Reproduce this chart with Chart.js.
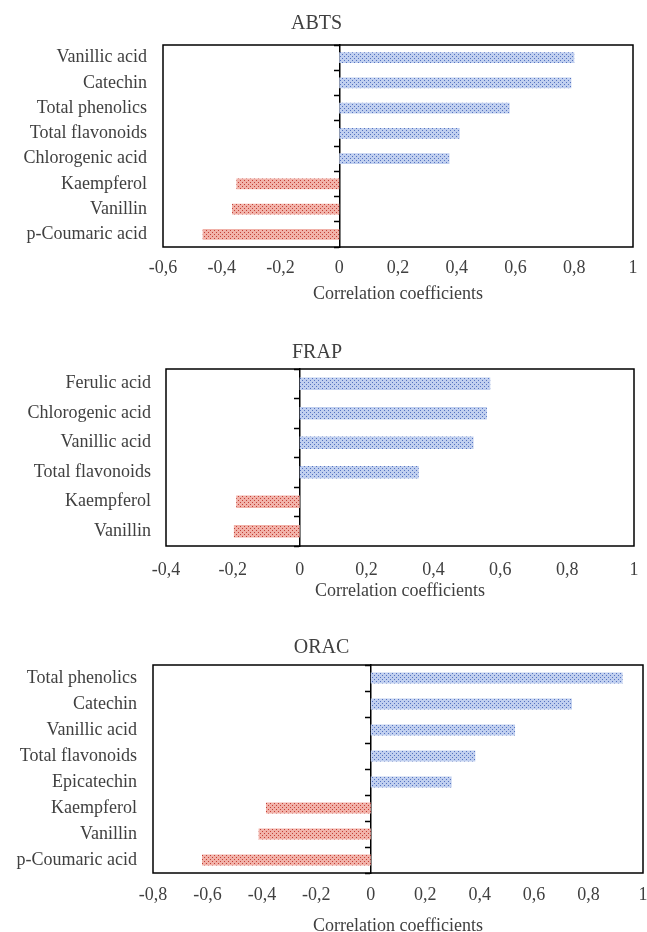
<!DOCTYPE html>
<html>
<head>
<meta charset="utf-8">
<script src="https://cdn.jsdelivr.net/npm/chart.js@4.4.1/dist/chart.umd.min.js"></script>
<style>
  html, body { margin: 0; padding: 0; background: #fff; overflow: hidden; }
  body { width: 647px; height: 932px; position: relative; }
  canvas { position: absolute; left: 0; }
</style>
</head>
<body>
<canvas id="abts" width="647" height="310" style="top:0px"></canvas>
<canvas id="frap" width="647" height="280" style="top:330px"></canvas>
<canvas id="orac" width="647" height="320" style="top:625px"></canvas>
<script>
// ABTS
var abtsLabels = ['Vanillic acid', 'Catechin', 'Total phenolics', 'Total flavonoids', 'Chlorogenic acid', 'Kaempferol', 'Vanillin', 'p-Coumaric acid'];
var abtsValues = [0.80, 0.79, 0.58, 0.41, 0.375, -0.35, -0.365, -0.465];
var abtsTicks = ['-0,6', '-0,4', '-0,2', '0', '0,2', '0,4', '0,6', '0,8', '1'];

// FRAP
var frapLabels = ['Ferulic acid', 'Chlorogenic acid', 'Vanillic acid', 'Total flavonoids', 'Kaempferol', 'Vanillin'];
var frapValues = [0.57, 0.56, 0.52, 0.356, -0.19, -0.197];
var frapTicks = ['-0,4', '-0,2', '0', '0,2', '0,4', '0,6', '0,8', '1'];

// ORAC
var oracLabels = ['Total phenolics', 'Catechin', 'Vanillic acid', 'Total flavonoids', 'Epicatechin', 'Kaempferol', 'Vanillin', 'p-Coumaric acid'];
var oracValues = [0.925, 0.739, 0.53, 0.384, 0.297, -0.385, -0.412, -0.62];
var oracTicks = ['-0,8', '-0,6', '-0,4', '-0,2', '0', '0,2', '0,4', '0,6', '0,8', '1'];

var serif = '"Liberation Serif", "Times New Roman", serif';
var textColor = '#404040';

function makePattern(bg, dot) {
  var c = document.createElement('canvas');
  c.width = 4; c.height = 4;
  var g = c.getContext('2d');
  g.fillStyle = bg;
  g.fillRect(0, 0, 4, 4);
  g.fillStyle = dot;
  g.fillRect(0, 0, 1, 1);
  g.fillRect(2, 2, 1, 1);
  return g.createPattern(c, 'repeat');
}
var bluePattern = makePattern('#c0cfef', '#5472c0');
var redPattern = makePattern('#f1b2a9', '#c43f35');

// frame around the plot area
var framePlugin = {
  id: 'frame',
  afterDraw: function(chart) {
    var a = chart.chartArea, c = chart.ctx;
    c.save();
    c.strokeStyle = '#000';
    c.lineWidth = 1.5;
    c.strokeRect(a.left, a.top, a.right - a.left, a.bottom - a.top);
    c.restore();
  }
};

function drawChart(id, title, labels, values, ticks, min, o) {
  var ctx = document.getElementById(id);
  return new Chart(ctx, {
    type: 'bar',
    data: {
      labels: labels,
      datasets: [{
        data: values,
        backgroundColor: function(c) { return c.raw >= 0 ? bluePattern : redPattern; },
        barPercentage: o.bar,
        categoryPercentage: 1,
        yAxisID: 'y'
      }]
    },
    plugins: [framePlugin],
    options: {
      responsive: false,
      animation: false,
      indexAxis: 'y',
      layout: { padding: { left: 0, right: o.right, top: 0, bottom: 0 } },
      plugins: {
        legend: { display: false },
        tooltip: { enabled: false },
        title: {
          display: true,
          text: title,
          color: textColor,
          font: { family: serif, size: 20, weight: 'normal' },
          padding: { top: o.titleTop, bottom: o.titleBottom }
        }
      },
      scales: {
        x: {
          type: 'linear',
          min: min,
          max: 1,
          grid: { display: false, drawTicks: false },
          border: { display: false },
          ticks: {
            stepSize: 0.2,
            padding: o.tickPad,
            color: textColor,
            font: { family: serif, size: 18 },
            maxRotation: 0,
            callback: function(v, i) { return ticks[i]; }
          },
          title: {
            display: true,
            text: 'Correlation coefficients',
            color: textColor,
            font: { family: serif, size: 18 },
            padding: { top: 0, bottom: o.axisTitleBottom }
          },
          afterFit: function(s) {
            s.height = o.xHeight;
            s.paddingLeft = 0;
            s.paddingRight = 0;
          }
        },
        y: {
          type: 'category',
          grid: { display: false, drawTicks: false },
          border: { display: false },
          ticks: {
            padding: o.labelPad,
            color: textColor,
            font: { family: serif, size: 18 }
          },
          afterFit: function(s) { s.width = o.yWidth; }
        },
        y2: {
          type: 'category',
          position: { x: 0 },
          z: 1,
          grid: {
            display: true,
            offset: true,
            drawOnChartArea: false,
            drawTicks: true,
            tickLength: 5,
            tickColor: '#000',
            tickWidth: 1.5
          },
          border: { display: true, color: '#000', width: 1.5 },
          ticks: { display: false },
          afterFit: function(s) { s.width = 0; }
        }
      }
    }
  });
}

drawChart('abts', 'ABTS', abtsLabels, abtsValues, abtsTicks, -0.6, {
  bar: 0.42, right: 14, titleTop: 12, titleBottom: 9, tickPad: 10,
  axisTitleBottom: 5, xHeight: 63, yWidth: 163, labelPad: 16
});
drawChart('frap', 'FRAP', frapLabels, frapValues, frapTicks, -0.4, {
  bar: 0.42, right: 13, titleTop: 11, titleBottom: 4, tickPad: 13,
  axisTitleBottom: 8, xHeight: 64, yWidth: 166, labelPad: 15
});
drawChart('orac', 'ORAC', oracLabels, oracValues, oracTicks, -0.8, {
  bar: 0.42, right: 4, titleTop: 11, titleBottom: 5, tickPad: 11,
  axisTitleBottom: 8, xHeight: 72, yWidth: 153, labelPad: 16
});
</script>
</body>
</html>
